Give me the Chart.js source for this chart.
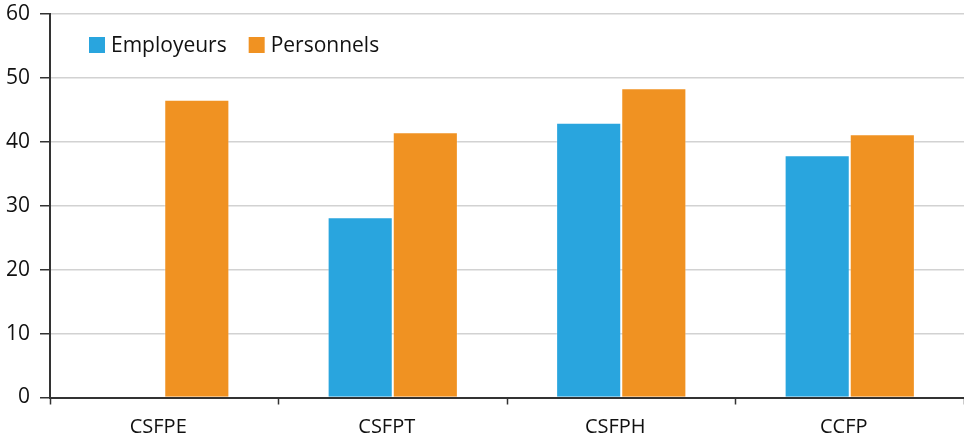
<!DOCTYPE html>
<html>
<head>
<meta charset="utf-8">
<script src="https://cdn.jsdelivr.net/npm/chart.js@4/dist/chart.umd.min.js"></script>
<style>
  html, body { margin: 0; padding: 0; background: #fff; overflow: hidden; }
  #wrap { width: 964px; height: 443px; position: relative; }
  canvas { display: block; }
</style>
</head>
<body>
<div id="wrap"><canvas id="chart"></canvas></div>
<script>
// Data
const categories = ['CSFPE', 'CSFPT', 'CSFPH', 'CCFP'];
const employeurs = [null, 28.2, 43.0, 37.9];
const personnels = [46.6, 41.5, 48.4, 41.2];
const yTicks = [0, 10, 20, 30, 40, 50, 60];

const BLUE = '#29a5de';
const ORANGE = '#f09222';
const FONT = '"Open Sans", "Noto Sans", sans-serif';

// Legend drawn inside the plot, top-left
const insideLegend = {
    id: 'insideLegend',
    afterDraw(chart) {
        const ctx = chart.ctx;
        const area = chart.chartArea;
        let x = area.left + 39;
        const y = area.top + 31;
        ctx.save();
        ctx.font = '21px ' + FONT;
        ctx.textBaseline = 'middle';
        chart.data.datasets.forEach(ds => {
            ctx.fillStyle = ds.backgroundColor;
            ctx.fillRect(x, y - 8, 16, 16);
            ctx.fillStyle = '#111';
            ctx.fillText(ds.label, x + 22, y + 1);
            x += 22 + ctx.measureText(ds.label).width + 22;
        });
        ctx.restore();
    }
};

new Chart(document.getElementById('chart'), {
    type: 'bar',
    data: {
        labels: categories,
        datasets: [
            {
                label: 'Employeurs',
                data: employeurs,
                backgroundColor: BLUE,
                borderColor: 'rgba(255,255,255,0.3)',
                borderWidth: 1
            },
            {
                label: 'Personnels',
                data: personnels,
                backgroundColor: ORANGE,
                borderColor: 'rgba(255,255,255,0.3)',
                borderWidth: 1
            }
        ]
    },
    options: {
        responsive: true,
        maintainAspectRatio: false,
        animation: false,
        layout: { padding: { top: 14, right: 0, left: 0, bottom: 0 } },
        datasets: { bar: { categoryPercentage: 0.57, barPercentage: 1.0 } },
        plugins: {
            legend: { display: false },
            tooltip: { enabled: false }
        },
        scales: {
            x: {
                grid: {
                    offset: true,
                    drawOnChartArea: false,
                    tickLength: 7,
                    tickColor: '#333',
                    tickWidth: 1.5
                },
                border: { color: '#333', width: 2 },
                ticks: { color: '#111', font: { family: FONT, size: 20 }, padding: 11, labelOffset: -6 },
                afterFit(scale) {
                    scale.height = 45.5;
                    scale.paddingLeft = 0;
                    scale.paddingRight = 0;
                }
            },
            y: {
                min: 0,
                max: 60,
                afterBuildTicks(scale) { scale.ticks = yTicks.map(v => ({ value: v })); },
                grid: {
                    color: '#d2d2d2',
                    lineWidth: 1.5,
                    tickColor: '#333',
                    tickLength: 10,
                    tickWidth: 1.5
                },
                border: { color: '#333', width: 2 },
                ticks: { color: '#111', font: { family: FONT, size: 21 }, padding: 10 },
                afterFit(scale) {
                    scale.width = 50;
                    scale.paddingTop = 0;
                    scale.paddingBottom = 0;
                }
            }
        }
    },
    plugins: [insideLegend]
});
</script>
</body>
</html>
